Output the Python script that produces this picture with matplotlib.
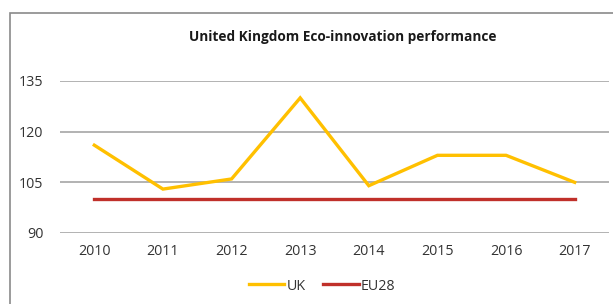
import matplotlib.pyplot as plt
from matplotlib.patches import Rectangle

years = ['2010', '2011', '2012', '2013', '2014', '2015', '2016', '2017']
uk = [116, 103, 106, 130, 104, 113, 113, 105]
eu28 = [100, 100, 100, 100, 100, 100, 100, 100]
yticks = [90, 105, 120, 135]

plt.rcParams['font.family'] = ['Open Sans', 'DejaVu Sans']

W, H = 613, 304
fig = plt.figure(figsize=(W / 100, H / 100), dpi=100)

# outer chart border (cut off at right and bottom like the screenshot)
fig.patches.append(Rectangle((10 / W, -0.05), 1.1, 1 - 13 / H + 0.05,
                             transform=fig.transFigure, fill=False,
                             edgecolor='#8a8a8a', linewidth=1.2))

ax = fig.add_axes([60 / W, 1 - 233 / H, (609 - 60) / W, (233 - 81) / H])
x = range(len(years))
ax.plot(x, uk, color='#FFC000', linewidth=2.4, label='UK', solid_joinstyle='miter')
ax.plot(x, eu28, color='#C0302A', linewidth=2.4, label='EU28')

ax.set_xlim(-0.5, len(years) - 0.5)
ax.set_ylim(90, 135)
ax.set_yticks(yticks)
ax.set_xticks(list(x))
ax.set_xticklabels(years)
ax.grid(axis='y', color='#a6a6a6', linewidth=1.2)
ax.set_axisbelow(True)
for s in ax.spines.values():
    s.set_visible(False)
ax.tick_params(length=0, labelsize=10.3, colors='#333333', pad=12)
ax.tick_params(axis='x', pad=8)

fig.text(343 / W, 1 - 37 / H, 'United Kingdom Eco-innovation performance',
         ha='center', va='center', fontsize=9.8, fontweight='bold', color='#1a1a1a')

ax.legend(loc='center', bbox_to_anchor=(322 / W, 1 - 286 / H),
          bbox_transform=fig.transFigure, ncol=2, frameon=False,
          fontsize=10.3, handlelength=2.5, handletextpad=0.15, columnspacing=1.2,
          labelcolor='#333333')

fig.savefig('out.png', dpi=100)
